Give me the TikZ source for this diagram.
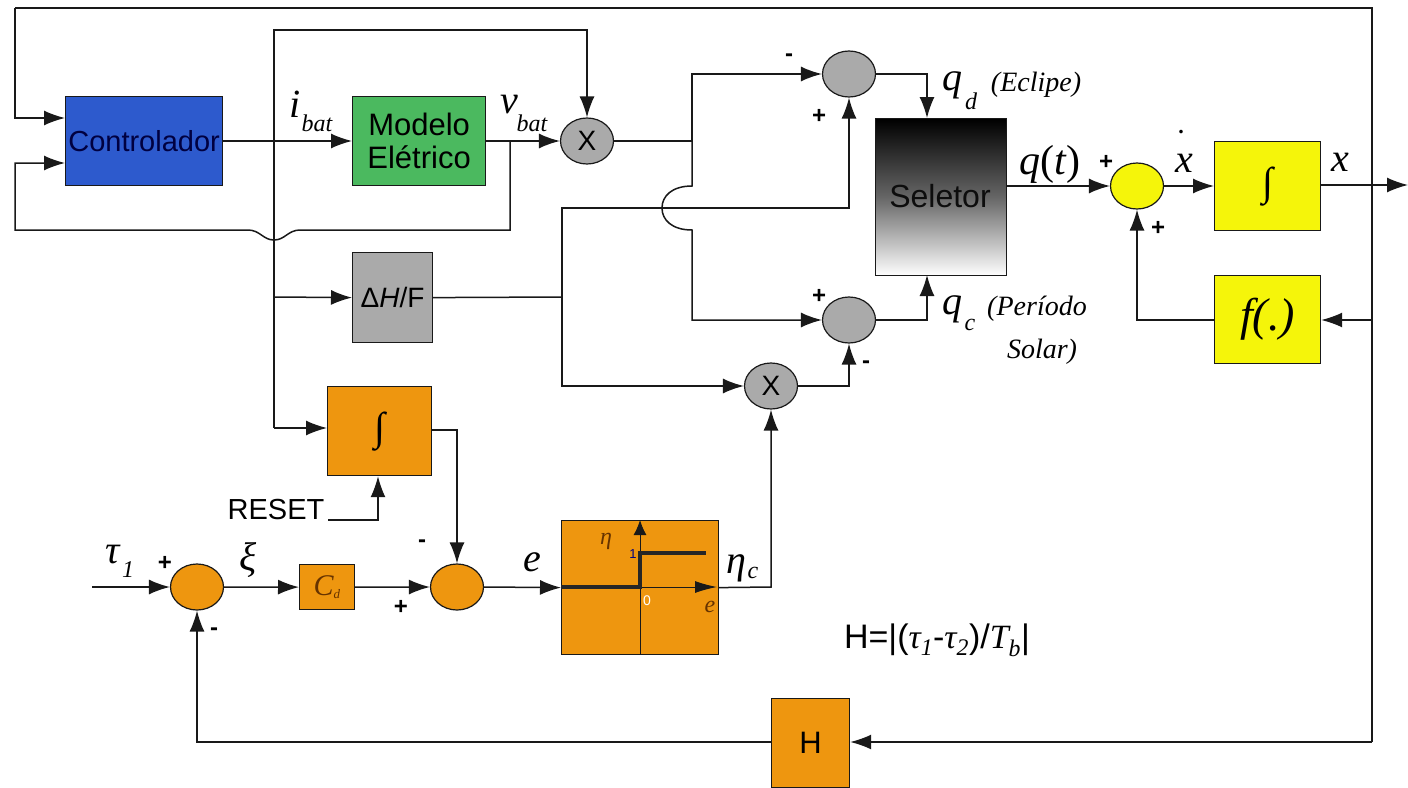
\documentclass[tikz,border=0pt]{standalone}
\usepackage{fontspec}
\setmainfont{Liberation Sans}
\newfontfamily\serifit[Ligatures=TeX]{Liberation Serif}
\usetikzlibrary{arrows.meta,shapes.geometric}
\definecolor{orng}{RGB}{238,150,15}
\definecolor{blu}{RGB}{45,90,205}
\definecolor{grn}{RGB}{75,185,95}
\definecolor{gry}{RGB}{170,170,170}
\definecolor{yel}{RGB}{245,245,10}
\definecolor{lin}{RGB}{25,25,25}
\tikzset{
 x=1pt,y=-1pt,
 conn/.style={draw=lin,line width=1.5pt},
 arr/.style={conn,-{Latex[length=21pt,width=15pt]}},
 blk/.style={draw=lin,line width=1.2pt,rectangle,inner sep=0pt,anchor=north west,align=center},
 sumc/.style={draw=lin,line width=1.2pt,ellipse,inner sep=0pt,minimum width=53pt,minimum height=46pt,font=\fontsize{28}{28}\selectfont},
 sg/.style={font=\fontsize{24}{24}\selectfont\bfseries,inner sep=0pt},
 sym/.style={inner sep=0pt,font=\serifit\fontsize{40}{40}\selectfont\itshape},
 lab/.style={inner sep=0pt,font=\serifit\fontsize{28}{28}\selectfont\itshape},
 subs/.style={inner sep=0pt,font=\serifit\fontsize{24}{24}\selectfont\itshape},
 intg/.style={font=\serifit\fontsize{40}{40}\selectfont},
}
\begin{document}
\begin{tikzpicture}
\useasboundingbox[fill=white] (0,0) rectangle (1408,787);
% blocks
\node[blk,fill=blu,minimum width=157pt,minimum height=89pt] (ctrl) at (65,96) {};
\node[text=blue!25!black,font=\fontsize{29}{29}\selectfont] at (ctrl.center) {Controlador};
\node[blk,fill=grn,minimum width=133pt,minimum height=89pt,font=\fontsize{31}{33}\selectfont] (mod) at (352,96) {Modelo\\Elétrico};
\node[blk,fill=gry,minimum width=80pt,minimum height=90pt,font=\fontsize{28}{28}\selectfont] (dh) at (352,252) {Δ\textit{H}/F};
\node[blk,fill=orng,minimum width=104pt,minimum height=89pt,intg] (int1) at (327,386) {∫};
\node[blk,fill=orng,minimum width=55pt,minimum height=45pt] (cd) at (299,564) {};
\node[inner sep=0pt,text=orange!40!black,font=\serifit\fontsize{30}{30}\selectfont\itshape] at (cd.center) {C\textsubscript{\fontsize{13}{13}\selectfont d}};
\node[blk,fill=orng,minimum width=157pt,minimum height=134pt] (rel) at (561,520) {};
\node[blk,minimum width=131pt,minimum height=157pt,draw=lin,
  top color=black,bottom color=white,middle color=black!60] (sel) at (875,118) {};
\node[font=\fontsize{32}{32}\selectfont,text=black!95] at (940,196) {Seletor};
\node[blk,fill=yel,minimum width=106pt,minimum height=89pt,intg] (int2) at (1214,141) {∫};
\node[blk,fill=yel,minimum width=106pt,minimum height=88pt,font=\serifit\fontsize{46}{46}\selectfont\itshape] (fb) at (1214,275) {f(.)};
\node[blk,fill=orng,minimum width=78pt,minimum height=89pt,font=\fontsize{31}{31}\selectfont] (hb) at (771,698) {H};
% circles
\node[sumc,fill=gry] (mx) at (587,141) {X};
\node[sumc,fill=gry] (sd) at (849,74) {};
\node[sumc,fill=gry] (sc) at (849,320) {};
\node[sumc,fill=gry] (my) at (771,386) {X};
\node[sumc,fill=yel] (sx) at (1137,186) {};
\node[sumc,fill=orng] (s1) at (197,587) {};
\node[sumc,fill=orng] (s2) at (457,587) {};
% free ends
\coordinate (tl) at (15,118);
\coordinate (ctrlA) at (65,118);
\coordinate (ctrlB) at (65,163);
\coordinate (in) at (92,587);
\coordinate (out) at (1408,185);
\coordinate (resetend) at (328,520);
% top frame and feedback
\draw[arr] (15,8) -- (tl) -- (ctrlA);
\draw[arr] (1372,742) -- (hb.east |- 0,742);
\draw[conn] (15,8) -- (1372,8) -- (1372,742);
\draw[arr] (int2.east |- 0,185) -- (out);
\draw[arr] (1372,320) -- (fb.east |- 0,320);
\draw[arr] (fb.west |- 0,320) -- (1137,320) -- (sx.south);
% controller loop
\draw[arr] (ctrl.east |- 0,141) -- (mod.west |- 0,141);
\draw[arr] (mod.east |- 0,141) -- (mx.west);
\draw[arr] (510,141) -- (510,230) -- (300,230) .. controls (288,230) and (285,240) .. (274,240) .. controls (263,240) and (260,230) .. (248,230) -- (15,230) -- (15,163) -- (ctrlB);
% current line
\draw[arr] (274,141) -- (274,30) -- (587,30) -- (mx.north);
\draw[conn] (274,141) -- (274,428);
\draw[arr] (274,297) -- (dh.west);
\draw[arr] (274,428) -- (int1.west |- 0,428);
% to summers
\draw[conn] (mx.east) -- (692,141);
\draw[arr] (692,141) -- (692,74) -- (sd.west);
\draw[arr] (692,141) -- (692,186) .. controls (672,186) and (662,196) .. (662,208) .. controls (662,220) and (672,230) .. (692,230) -- (692,320) -- (sc.west);
\draw[conn] (dh.east) -- (562,297);
\draw[arr] (562,297) -- (562,208) -- (849,208) -- (sd.south);
\draw[arr] (562,297) -- (562,386) -- (my.west);
\draw[arr] (my.east) -- (849,386) -- (sc.south);
\draw[arr] (sd.east) -- (927,74) -- (927,118);
\draw[arr] (sc.east) -- (927,320) -- (927,275);
\draw[arr] (sel.east |- 0,186) -- (sx.west);
\draw[arr] (sx.east) -- (int2.west |- 0,186);
% lower chain
\draw[arr] (in) -- (s1.west);
\draw[arr] (s1.east) -- (cd.west);
\draw[arr] (cd.east) -- (s2.west);
\draw[arr] (s2.east) -- (rel.west);
\draw[arr] (rel.east) -- (771,587) -- (my.south);
\draw[arr] (int1.east |- 0,430) -- (457,430) -- (s2.north);
\draw[arr] (resetend) -- (378,520) -- (int1.south -| 378,0);
\draw[arr] (hb.west |- 0,742) -- (197,742) -- (s1.south);
% relay plot
\draw[draw=lin,line width=1pt] (640,654) -- (640,540);
\draw[draw=lin,line width=1pt] (640,587) -- (700,587);
\draw[lin,-{Latex[length=15pt,width=13pt]},line width=1pt] (640,560) -- (640,520);
\draw[lin,-{Latex[length=22pt,width=12pt]},line width=1pt] (690,587) -- (717,587);
\draw[black!85,line width=3.2pt] (561,587) -- (640,587) -- (640,553) -- (706,553);
\node[subs,text=orange!40!black] at (606,541) {η};
\node[inner sep=0pt,text=blue!50!black,font=\fontsize{13}{13}\selectfont] at (633,554) {1};
\node[inner sep=0pt,text=white,font=\fontsize{14}{14}\selectfont] at (647,601) {0};
\node[subs,text=orange!40!black] at (710,607) {e};
% signs
\node[sg] at (789,58) {-};
\node[sg] at (819,116) {+};
\node[sg] at (819,296) {+};
\node[sg] at (866,365) {-};
\node[sg] at (1106,162) {+};
\node[sg] at (1158,228) {+};
\node[sg] at (165,563) {+};
\node[sg] at (214,632) {-};
\node[sg] at (422,544) {-};
\node[sg] at (401,607) {+};
% labels
\node[sym] at (295,104) {i};
\node[subs] at (317,123) {bat};
\node[sym] at (509,105) {v};
\node[subs] at (532,123) {bat};
\node[sym] at (952,85) {q};
\node[subs] at (971,101) {d};
\node[lab] at (1036,85) {(Eclipe)};
\node[sym] at (952,309) {q};
\node[subs] at (970,325) {c};
\node[lab] at (1037,309) {(Período};
\node[lab] at (1042,352) {Solar)};
\node[sym,font=\serifit\fontsize{42}{42}\selectfont] at (1050,164) {\textit{q}(\textit{t})};
\node[sym] at (1184,163) {x};
\node[inner sep=0pt,font=\serifit\bfseries\fontsize{22}{22}\selectfont] at (1181,132) {.};
\node[sym] at (1340,162) {x};
\node[sym] at (113,555) {τ};
\node[subs] at (128,570) {1};
\node[sym] at (248,560) {ξ};
\node[sym] at (532,562) {e};
\node[sym] at (736,568) {η};
\node[subs] at (753,573) {c};
\node[inner sep=0pt,font=\fontsize{29}{29}\selectfont] at (276,510) {RESET};
\node[inner sep=0pt,font=\fontsize{34}{34}\selectfont] at (937,640) {H=|({\serifit\itshape τ}\textsubscript{\serifit\itshape 1}-{\serifit\itshape τ}\textsubscript{\serifit\itshape 2})/{\serifit\itshape T}\textsubscript{\serifit\itshape b}|};
\end{tikzpicture}
\end{document}
